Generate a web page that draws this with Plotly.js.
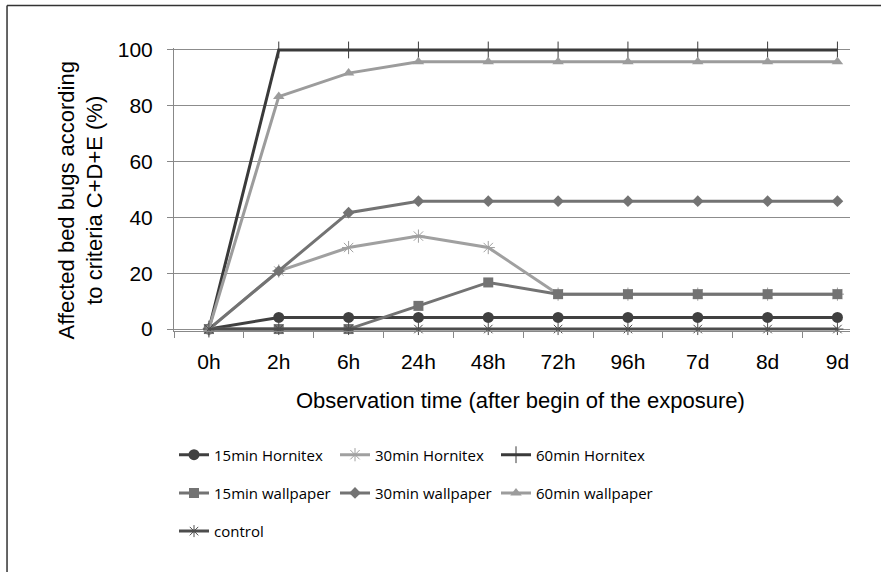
<!DOCTYPE html>
<html>
<head>
<meta charset="utf-8">
<script src="https://cdn.plot.ly/plotly-3.0.1.min.js"></script>
<style>html,body{margin:0;padding:0;background:#fff;}#chart{width:881px;height:572px;}</style>
</head>
<body>
<div id="chart"></div>
<script>
var categories = ["0h","2h","6h","24h","48h","72h","96h","7d","8d","9d"];
var hornitex15 = [0, 4.17, 4.17, 4.17, 4.17, 4.17, 4.17, 4.17, 4.17, 4.17];
var hornitex30 = [0, 20.8, 29.2, 33.3, 29.2, 12.5, 12.5, 12.5, 12.5, 12.5];
var hornitex60 = [0, 100, 100, 100, 100, 100, 100, 100, 100, 100];
var wallpaper15 = [0, 0, 0, 8.3, 16.7, 12.5, 12.5, 12.5, 12.5, 12.5];
var wallpaper30 = [0, 20.8, 41.7, 45.8, 45.8, 45.8, 45.8, 45.8, 45.8, 45.8];
var wallpaper60 = [0, 83.3, 91.7, 95.8, 95.8, 95.8, 95.8, 95.8, 95.8, 95.8];
var control = [0, 0, 0, 0, 0, 0, 0, 0, 0, 0];
var yTicks = [0, 20, 40, 60, 80, 100];
var xTitle = 'Observation time (after begin of the exposure)';
var yTitle = 'Affected bed bugs according<br>to criteria C+D+E (%)';

function tr(name, y, color, symbol, size, legend, mlinecolor, mlinewidth) {
  return {
    type: 'scatter', mode: 'lines+markers', name: name, x: categories, y: y,
    line: {color: color, width: 3},
    marker: {symbol: symbol, size: size, color: color,
             line: {color: mlinecolor || color, width: mlinewidth || 0}},
    cliponaxis: false, legend: legend
  };
}

var data = [
  tr('15min Hornitex', hornitex15, '#404040', 'circle', 11, 'legend'),
  tr('30min Hornitex', hornitex30, '#a0a0a0', 'asterisk-open', 11, 'legend', '#a0a0a0', 1),
  tr('60min Hornitex', hornitex60, '#3a3a3a', 'line-ns-open', 12, 'legend', '#3a3a3a', 1),
  tr('15min wallpaper', wallpaper15, '#737373', 'square', 10, 'legend2'),
  tr('30min wallpaper', wallpaper30, '#737373', 'diamond', 9, 'legend2'),
  tr('60min wallpaper', wallpaper60, '#9c9c9c', 'triangle-up', 10, 'legend2'),
  tr('control', control, '#4d4d4d', 'asterisk-open', 10, 'legend3', '#8a8a8a', 1)
];

var legendFont = {family: 'Open Sans, sans-serif', size: 15, color: '#000'};
function leg(y) {
  return {orientation: 'h', x: 0, xanchor: 'left', y: y, yanchor: 'middle',
          font: legendFont, entrywidth: 116, entrywidthmode: 'pixels',
          itemwidth: 30, bgcolor: 'rgba(0,0,0,0)', traceorder: 'normal'};
}

var layout = {
  width: 881, height: 572,
  margin: {l: 174, r: 31, t: 48, b: 241},
  paper_bgcolor: '#fff', plot_bgcolor: '#fff',
  font: {family: 'Liberation Sans, Arial, sans-serif', color: '#000'},
  showlegend: true,
  xaxis: {
    type: 'category', range: [-0.5, 9.18],
    tickson: 'boundaries', ticks: 'outside', ticklen: 6, tickcolor: '#888',
    showgrid: false, showline: true, linecolor: '#888', linewidth: 1,
    tickfont: {size: 21, color: '#000'}, ticklabelstandoff: 12,
    fixedrange: true
  },
  yaxis: {
    range: [-0.7, 100.7], tickvals: yTicks, ticktext: yTicks.map(String),
    ticks: 'outside', ticklen: 6, tickcolor: '#888',
    showgrid: true, gridcolor: '#8c8c8c', gridwidth: 1,
    showline: true, linecolor: '#888', linewidth: 1, zeroline: true, zerolinecolor: '#8c8c8c', zerolinewidth: 1,
    tickfont: {size: 21, color: '#000'}, ticklabelstandoff: 10,
    fixedrange: true
  },
  annotations: [
    {text: xTitle, xref: 'paper', yref: 'paper', x: 0.513, y: -0.245, xanchor: 'center', yanchor: 'middle',
     showarrow: false, font: {size: 22, color: '#000'}},
    {text: yTitle, xref: 'paper', yref: 'paper', x: -0.138, y: 0.46, xanchor: 'center', yanchor: 'middle',
     textangle: -90, showarrow: false, font: {size: 22, color: '#000'}}
  ],
  legend: leg(-0.438),
  legend2: leg(-0.573),
  legend3: leg(-0.708),
  shapes: [
    {type: 'line', xref: 'paper', yref: 'paper', x0: -0.247, x1: -0.247, y0: 1.1505, y1: -0.95, line: {color: '#333', width: 1.5}},
    {type: 'line', xref: 'paper', yref: 'paper', x0: -0.247, x1: 1.1, y0: 1.1505, y1: 1.1505, line: {color: '#333', width: 1.5}}
  ]
};

Plotly.newPlot('chart', data, layout, {displayModeBar: false, staticPlot: true});
</script>
</body>
</html>
